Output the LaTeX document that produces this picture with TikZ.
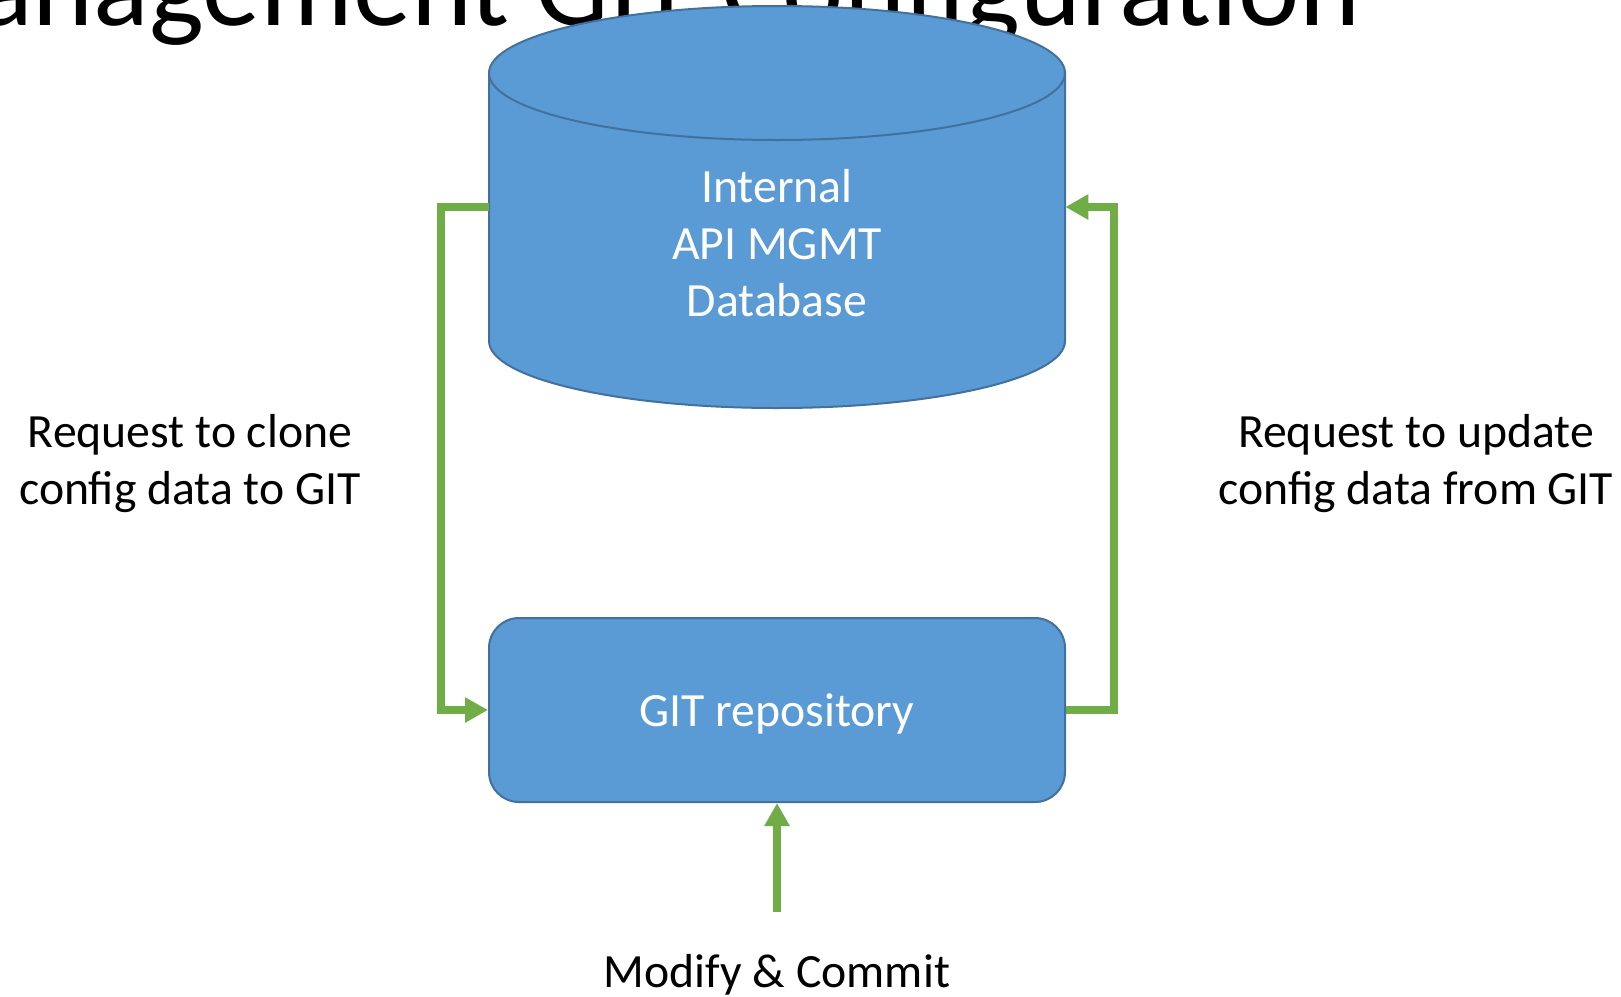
\documentclass[tikz,border=0pt]{standalone}
\usepackage{fontspec}
\setmainfont{Carlito}
\usetikzlibrary{arrows.meta}
\definecolor{dbblue}{HTML}{5B9BD5}
\definecolor{dbline}{HTML}{41719C}
\definecolor{flowgreen}{HTML}{70AD47}
\begin{document}
\begin{tikzpicture}[x=0.5pt,y=-0.5pt,
  shapefill/.style={fill=dbblue,draw=dbline,line width=1pt},
  flow/.style={draw=flowgreen,line width=4pt,-{Triangle[length=11.5pt,width=12pt]}},
  lbl/.style={font=\fontsize{23.85}{28.5}\selectfont,align=center,inner sep=0pt},
  intext/.style={lbl,text=white}]
\useasboundingbox (0,0) rectangle (1621,996);
\clip (0,0) rectangle (1621,996);
\fill[white] (0,0) rectangle (1621,996);
\node[anchor=base east,inner sep=0pt,font=\fontsize{58}{69}\selectfont] (title) at (1361,25) {Management GIT Configuration};
% cylinder
\path[shapefill] (489,73) -- (489,341) arc[start angle=180,end angle=360,x radius=144pt,y radius=33.5pt] -- (1065,73) -- cycle;
\path[shapefill] (777,73) ellipse[x radius=144pt,y radius=33.5pt];
\node[minimum width=288pt,minimum height=134pt,inner sep=0pt] (db) at (777,207) {};
\node[intext] (dbtext) at (777,243) {Internal\\API MGMT\\Database};
% box
\node[shapefill,rounded corners=15pt,minimum width=288pt,minimum height=92pt,inner sep=0pt,intext,text height=17pt,text depth=0.5pt] (git) at (777,710) {GIT repository};
% connectors
\draw[flow] (db.west) -- ++(-48,0) |- (git.west);
\draw[flow] (git.east) -- ++(48,0) |- (db.east);
\coordinate (mcstart) at (777,912);
\draw[flow] (mcstart) -- (git.south);
% labels
\node[lbl] (clone) at (190,464) {Request to clone\\config data to GIT};
\node[lbl] (update) at (1416,464) {Request to update\\config data from GIT};
\node[lbl] (commit) at (777,975) {Modify \& Commit};
\end{tikzpicture}
\end{document}
